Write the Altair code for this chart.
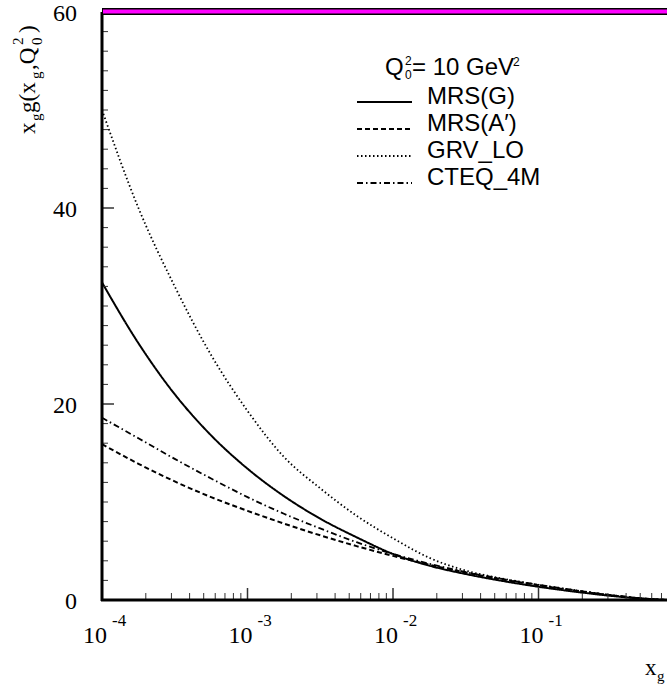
import altair as alt
import pandas as pd

# ---- data ----
x_vals = [1e-4, 1.78e-4, 3.16e-4, 5.62e-4, 1e-3, 1.78e-3, 3.16e-3, 5.62e-3,
          1e-2, 1.78e-2, 3.16e-2, 5.62e-2, 1e-1, 1.78e-1, 3.16e-1, 5.62e-1, 0.764]
mrs_g  = [32.4, 26.2, 21.0, 16.8, 13.4, 10.6, 8.3, 6.4, 4.7, 3.5, 2.65, 1.95, 1.35, 0.85, 0.42, 0.1, 0.0]
mrs_a  = [15.9, 13.9, 12.1, 10.5, 9.1, 7.8, 6.6, 5.5, 4.5, 3.6, 2.8, 2.1, 1.5, 0.95, 0.48, 0.12, 0.0]
grv_lo = [50.0, 40.0, 32.0, 25.0, 19.3, 14.6, 11.4, 8.6, 6.3, 4.3, 3.0, 2.2, 1.55, 1.0, 0.5, 0.12, 0.0]
cteq   = [18.6, 16.5, 14.4, 12.4, 10.5, 8.8, 7.3, 5.9, 4.7, 3.7, 2.85, 2.15, 1.55, 1.0, 0.5, 0.12, 0.0]

series_names = ["MRS(G)", "MRS(A′)", "GRV_LO", "CTEQ_4M"]
series_vals = [mrs_g, mrs_a, grv_lo, cteq]

y_tick_labels = [0, 20, 40, 60]
x_decades = [1e-4, 1e-3, 1e-2, 1e-1]
x_exponents = ["-4", "-3", "-2", "-1"]

# ---- scales ----
XMAX = 0.764
xs = alt.Scale(type="log", domain=[1e-4, XMAX], nice=False)
ys = alt.Scale(domain=[0, 60], nice=False, zero=False)

W, H = 565, 588
serif = "Liberation Serif"
sans = "Liberation Sans"

dashes = [[1, 0], [5, 3], [1.5, 2.5], [6, 3, 1.5, 3]]
widths = [2, 2, 1.8, 1.8]

layers = []

# curves
for name, vals, dash, w in zip(series_names, series_vals, dashes, widths):
    df = pd.DataFrame({"x": x_vals, "y": vals})
    layers.append(
        alt.Chart(df).mark_line(color="black", strokeDash=dash, strokeWidth=w,
                                interpolate="monotone", clip=True)
        .encode(x=alt.X("x:Q", scale=xs, axis=None), y=alt.Y("y:Q", scale=ys, axis=None))
    )

# ticks - y
y_minor = pd.DataFrame({"v": [v for v in range(2, 60, 2) if v not in (20, 40)]})
y_major = pd.DataFrame({"v": [20, 40]})
layers.append(alt.Chart(y_minor).mark_rule(color="#333", strokeWidth=1)
              .encode(y=alt.Y("v:Q", scale=ys, axis=None), x=alt.value(0), x2=alt.value(6)))
layers.append(alt.Chart(y_major).mark_rule(color="#333", strokeWidth=1.5)
              .encode(y=alt.Y("v:Q", scale=ys, axis=None), x=alt.value(0), x2=alt.value(12)))

# ticks - x
x_minor_list = []
for d in [1e-4, 1e-3, 1e-2, 1e-1]:
    for k in range(2, 10):
        v = k * d
        if v < XMAX:
            x_minor_list.append(v)
x_minor = pd.DataFrame({"v": x_minor_list})
x_major = pd.DataFrame({"v": [1e-3, 1e-2, 1e-1]})
layers.append(alt.Chart(x_minor).mark_rule(color="#333", strokeWidth=1)
              .encode(x=alt.X("v:Q", scale=xs, axis=None), y=alt.value(H), y2=alt.value(H - 7)))
layers.append(alt.Chart(x_major).mark_rule(color="#333", strokeWidth=1.5)
              .encode(x=alt.X("v:Q", scale=xs, axis=None), y=alt.value(H), y2=alt.value(H - 12)))

# axis lines
layers.append(alt.Chart(pd.DataFrame({"a": [0]})).mark_rule(color="black", strokeWidth=3)
              .encode(x=alt.value(0), y=alt.value(0), y2=alt.value(H + 1)))
layers.append(alt.Chart(pd.DataFrame({"a": [0]})).mark_rule(color="black", strokeWidth=3)
              .encode(x=alt.value(-1), x2=alt.value(W), y=alt.value(H)))

# magenta top bar
layers.append(alt.Chart(pd.DataFrame({"a": [0]})).mark_rule(color="black", strokeWidth=7)
              .encode(x=alt.value(0), x2=alt.value(W), y=alt.value(-0.5)))
layers.append(alt.Chart(pd.DataFrame({"a": [0]})).mark_rule(color="#ff00ff", strokeWidth=4)
              .encode(x=alt.value(1), x2=alt.value(W), y=alt.value(-0.5)))

# y tick labels
layers.append(alt.Chart(pd.DataFrame({"v": y_tick_labels})).mark_text(
    font=serif, fontSize=24, align="right", baseline="middle", dy=2, color="black")
    .encode(y=alt.Y("v:Q", scale=ys, axis=None), x=alt.value(-25), text="v:Q"))

# x tick labels: 10 with exponent
xl = pd.DataFrame({"v": x_decades, "b": ["10"] * 4, "e": x_exponents})
layers.append(alt.Chart(xl).mark_text(font=serif, fontSize=24, align="right",
                                      baseline="alphabetic", dx=5, color="black")
              .encode(x=alt.X("v:Q", scale=xs, axis=None), y=alt.value(631), text="b:N"))
layers.append(alt.Chart(xl).mark_text(font=serif, fontSize=17, align="left",
                                      baseline="alphabetic", dx=10, color="black")
              .encode(x=alt.X("v:Q", scale=xs, axis=None), y=alt.value(614), text="e:N"))

def txt(s, x, y, size, font=serif, angle=0, align="left"):
    return alt.Chart(pd.DataFrame({"t": [s]})).mark_text(
        font=font, fontSize=size, align=align, baseline="alphabetic", angle=angle,
        color="black").encode(x=alt.value(x - 102), y=alt.value(y - 12), text="t:N")

# y title (rotated): x_g g(x_g,Q_0^2)
layers += [
    txt("x", 35, 134, 23, angle=270),
    txt("g", 41, 121, 15, angle=270),
    txt("g(x", 35, 113, 23, angle=270),
    txt("g", 41, 79, 15, angle=270),
    txt(",Q", 35, 70, 23, angle=270),
    txt("0", 42, 45, 15, angle=270),
    txt("2", 23, 45, 15, angle=270),
    txt(")", 35, 33, 23, angle=270),
]

# x title: x_g
layers += [txt("x", 645, 675, 23), txt("g", 657, 681, 15)]

# legend header
layers += [
    txt("Q", 385, 75, 24, font=sans),
    txt("0", 405, 79, 12, font=sans),
    txt("2", 405, 65, 12, font=sans),
    txt("= 10 GeV", 412, 75, 24, font=sans),
    txt("2", 513, 66, 12, font=sans),
]

# legend entries
leg_base = [104, 131, 158, 185]
for name, dash, w, b in zip(series_names, dashes, widths, leg_base):
    layers.append(txt(name, 427, b, 24, font=sans))
    layers.append(alt.Chart(pd.DataFrame({"a": [0]})).mark_rule(
        color="black", strokeDash=dash, strokeWidth=w)
        .encode(x=alt.value(357 - 102), x2=alt.value(412 - 102), y=alt.value(b - 2 - 12)))

chart = alt.layer(*layers).properties(
    width=W, height=H, autosize="none",
    padding={"left": 102, "top": 12, "right": 0, "bottom": 84},
).configure_view(stroke=None)

chart.save("out.html", embed_options={"renderer": "svg", "actions": False})
